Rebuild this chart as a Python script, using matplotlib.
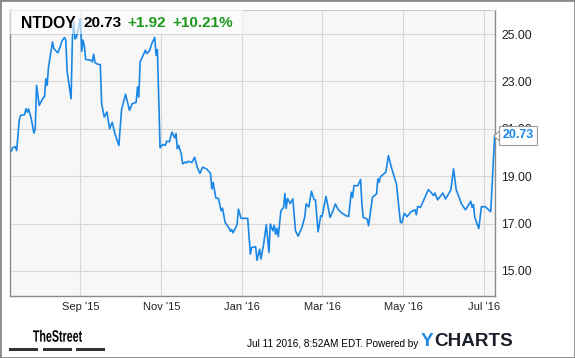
import numpy as np
import pandas as pd
import matplotlib
matplotlib.use("Agg")
import matplotlib.pyplot as plt
from matplotlib.patches import Rectangle, Polygon, PathPatch
from matplotlib.textpath import TextPath
from matplotlib.font_manager import FontProperties
from matplotlib.transforms import Affine2D

plt.rcParams['font.family'] = ['Liberation Sans', 'DejaVu Sans']

# NTDOY price; days counted from 2015-07-10
start = pd.Timestamp("2015-07-10")
days = [1, 2, 4, 5, 7, 8, 11, 12, 13, 14, 16, 18, 19, 20, 22, 25, 26, 27, 28, 29,
        32, 33, 36, 38, 39, 41, 42, 43, 46, 47, 48, 49, 50, 52, 53, 54, 55, 56, 57, 61,
        62, 63, 64, 66, 68, 69, 71, 73, 75, 77, 79, 82, 84, 87, 90, 92, 95, 96, 97, 98,
        102, 103, 105, 107, 109, 110, 111, 113, 115, 117, 118, 120, 122, 124, 125, 126, 127, 129, 130, 132,
        133, 134, 137, 139, 141, 143, 145, 148, 151, 152, 153, 155, 157, 159, 160, 162, 165, 166, 167, 168,
        171, 172, 174, 179, 181, 182, 185, 186, 188, 189, 191, 193, 195, 196, 198, 199, 200, 201, 202, 204,
        206, 207, 208, 209, 211, 213, 215, 217, 220, 222, 223, 225, 227, 229, 230, 232, 234, 235, 238, 241,
        243, 245, 247, 250, 253, 255, 257, 258, 259, 262, 264, 265, 266, 269, 270, 273, 276, 277, 278, 279,
        283, 285, 287, 291, 294, 295, 297, 299, 302, 305, 306, 307, 309, 311, 315, 317, 319, 320, 322, 326,
        328, 332, 334, 336, 340, 343, 347, 348, 349, 350, 353, 355, 358, 362, 365]
price = [20.06, 20.20, 20.25, 20.08, 21.39, 21.57, 21.60, 21.85, 21.70, 21.84, 21.43, 20.82, 20.99, 22.84, 21.99, 22.32, 22.35, 23.12, 22.84, 23.61,
         24.67, 24.39, 24.21, 24.49, 24.70, 24.86, 24.75, 23.45, 22.27, 24.85, 25.50, 24.80, 24.86, 25.33, 25.65, 24.27, 24.75, 24.49, 23.93, 23.90,
         23.83, 24.15, 23.80, 23.73, 23.71, 22.06, 21.50, 21.71, 21.00, 21.28, 20.79, 20.30, 21.81, 22.46, 21.78, 22.06, 22.12, 22.77, 22.34, 23.83,
         24.32, 24.18, 24.29, 24.63, 24.86, 24.11, 24.35, 20.20, 20.34, 20.30, 20.48, 20.46, 20.86, 20.62, 20.80, 20.16, 20.30, 19.94, 19.52, 19.60,
         19.56, 19.63, 19.58, 19.80, 19.38, 19.12, 19.38, 19.31, 19.12, 18.46, 18.74, 18.08, 18.06, 17.54, 17.65, 17.05, 16.81, 16.67, 16.75, 16.61,
         16.95, 17.61, 17.22, 17.22, 15.71, 15.99, 16.02, 15.45, 15.92, 15.50, 16.13, 16.95, 15.78, 16.98, 16.69, 16.93, 16.55, 16.80, 16.45, 17.54,
         17.68, 18.27, 17.64, 18.06, 17.85, 18.04, 16.69, 16.47, 16.86, 17.29, 17.83, 17.70, 18.36, 18.01, 18.00, 16.65, 17.33, 17.30, 18.15, 17.26,
         17.50, 17.83, 17.60, 17.44, 17.33, 17.30, 18.32, 18.10, 18.60, 18.60, 18.86, 17.83, 17.26, 17.19, 16.91, 18.11, 18.25, 18.89, 18.75, 18.98,
         19.17, 19.87, 19.41, 18.67, 17.05, 17.03, 17.43, 17.29, 17.50, 17.58, 17.37, 17.72, 17.68, 17.92, 18.43, 18.32, 18.18, 18.29, 18.00, 18.29,
         18.04, 18.42, 19.31, 18.43, 17.83, 17.58, 17.94, 17.68, 17.80, 17.26, 16.79, 17.71, 17.71, 17.50, 20.73]

y_ticks = [15, 17, 19, 21, 23, 25]
x_ticks = ["2015-09-01", "2015-11-01", "2016-01-01", "2016-03-01", "2016-05-01", "2016-07-01"]
x_tick_labels = ["Sep '15", "Nov '15", "Jan '16", "Mar '16", "May '16", "Jul '16"]

ticker = "NTDOY"
last = "20.73"
change = "+1.92"
change_pct = "+10.21%"
stamp = "Jul 11 2016, 8:52AM EDT. Powered by"

W, H = 575, 358
blue = "#1a87e6"
green = "#1d9a1d"


def fx(x):
    return x / W


def fy(y):
    return 1 - y / H


dates = start + pd.to_timedelta(days, unit="D")

fig = plt.figure(figsize=(W / 100, H / 100), dpi=100)
fig.patch.set_facecolor("white")
ax = fig.add_axes([fx(10), fy(296), fx(494.7) - fx(10), fy(10) - fy(296)])
ax.set_facecolor("#f7f7f7")
ax.plot(dates, price, color=blue, lw=1.2, zorder=3)

ax.set_xlim(start, start + pd.Timedelta(days=365))
ax.set_ylim(13.94, 26.02)
ax.set_yticks(y_ticks)
ax.set_yticklabels(["%.2f" % v for v in y_ticks])
ax.set_xticks(pd.to_datetime(x_ticks))
ax.set_xticklabels(x_tick_labels)
ax.yaxis.tick_right()
ax.tick_params(axis="y", length=0, pad=4.5, labelsize=8.8, labelcolor="#222222")
ax.tick_params(axis="x", length=0, pad=4, labelsize=8, labelcolor="#222222")
ax.grid(True, color="#d6d6d6", lw=0.8)
ax.set_axisbelow(True)
for s in ["left", "bottom", "right"]:
    ax.spines[s].set_color("#8a8a8a")
    ax.spines[s].set_linewidth(1)
ax.spines["top"].set_color("#cccccc")

# title strip
ax.add_patch(Rectangle((fx(10), fy(34)), fx(243) - fx(10), fy(10) - fy(34),
                       transform=fig.transFigure, facecolor="white", alpha=0.6,
                       edgecolor="none", zorder=4))
fig.text(fx(21), fy(23), ticker, fontsize=11.3, fontweight="bold", color="black", va="center")
fig.text(fx(83), fy(23), last, fontsize=11, fontweight="bold", color="black", va="center")
fig.text(fx(127), fy(23), change, fontsize=11, fontweight="bold", color=green, va="center")
fig.text(fx(172), fy(23), change_pct, fontsize=11, fontweight="bold", color=green, va="center")

# last value flag
fig.patches.append(Rectangle((fx(499), fy(145)), fx(537) - fx(499), fy(126) - fy(145),
                             transform=fig.transFigure, facecolor="white",
                             edgecolor="#999999", lw=0.8, zorder=5))
fig.patches.append(Polygon([(fx(494), fy(136)), (fx(499.5), fy(131)), (fx(499.5), fy(141))],
                           closed=True, transform=fig.transFigure, facecolor="white",
                           edgecolor="#999999", lw=0.8, zorder=5))
fig.text(fx(518), fy(135.5), last, fontsize=9, fontweight="bold", color=blue,
         ha="center", va="center", zorder=6)

# footer: condensed "TheStreet" logo
tp = TextPath((0, 0), "TheStreet", size=16.5, prop=FontProperties(family="Liberation Sans", weight="bold"))
ext = tp.get_extents()
sx = 49 / ext.width
logo = PathPatch(tp, transform=Affine2D().translate(-ext.x0, 0).scale(sx, 1.0).translate(33, H - 341.7),
                 facecolor="black", edgecolor="none")
fig.patches.append(logo)
for x0, x1 in [(9, 38), (43, 72), (76, 105)]:
    fig.patches.append(Rectangle((fx(x0), fy(351)), fx(x1) - fx(x0), fy(348) - fy(351),
                                 transform=fig.transFigure, facecolor="#333333", edgecolor="none"))
fig.text(fx(418), fy(344), stamp, fontsize=7.2, color="black", ha="right", va="center")
t = fig.text(fx(421), fy(341), "Y", fontsize=13.6, fontweight="bold", color=blue, va="center")
fig.canvas.draw()
bb = t.get_window_extent()
fig.text(bb.x1 / W + 0.001, fy(341), "CHARTS", fontsize=13.6, fontweight="bold",
         color="#1c1f2a", va="center")

# outer frame
fig.patches.append(Rectangle((0, 0), 1, 1, transform=fig.transFigure, facecolor="none",
                             edgecolor="#8a8a8a", lw=2))

fig.savefig("out.png", dpi=100)
